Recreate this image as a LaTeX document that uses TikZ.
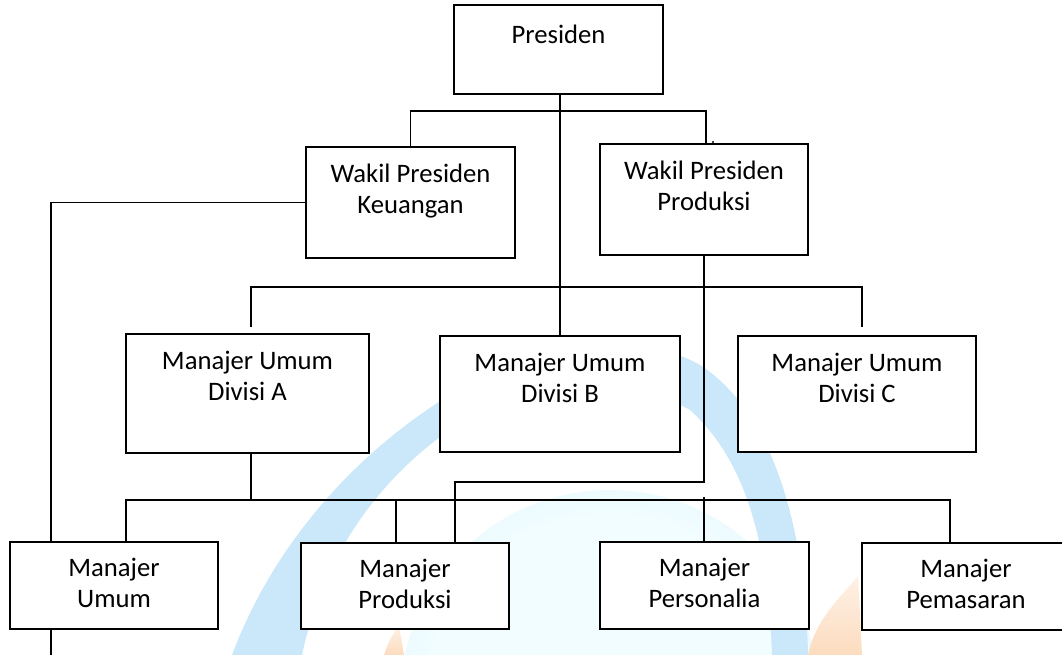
\documentclass[tikz,border=0pt]{standalone}
\usepackage{fontspec}
\setmainfont{Carlito}
\definecolor{wmblue}{HTML}{CAE8FA}
\definecolor{wmcore}{HTML}{F1FDFF}
\definecolor{wmflame}{HTML}{FCDCBE}
\definecolor{wmflametop}{HTML}{FEF1E6}
\pgfdeclareradialshading{wmglow}{\pgfpoint{0bp}{0bp}}{%
  color(0bp)=(wmcore); color(22bp)=(wmcore); color(50bp)=(wmblue)}
\tikzset{
  box/.style={draw, line width=1.5pt, fill=white, inner sep=0pt, outer sep=0pt},
  lbl/.style={align=center, inner sep=0pt, anchor=north,
    font=\fontsize{20pt}{23.25pt}\selectfont, execute at begin node=\strut},
  link/.style={line width=1.4pt},
}
\begin{document}
\begin{tikzpicture}[x=0.75pt, y=-0.75pt]
\useasboundingbox (0,0) rectangle (1062,655);

% background emblem
\shade[shading=wmglow] (610,700) circle (157.5pt);
\fill[wmblue] (232,655) .. controls (275,540) and (360,450) .. (450,395)
  .. controls (530,345) and (640,330) .. (700,365)
  .. controls (770,410) and (805,520) .. (808,655)
  -- (772,655)
  .. controls (768,540) and (745,460) .. (690,410)
  .. controls (620,370) and (510,385) .. (436,440)
  .. controls (365,495) and (320,570) .. (302,655) -- cycle;
\shade[top color=wmflametop, bottom color=wmflame]
  (808,655) .. controls (815,620) and (840,598) .. (858,576)
  -- (862,655) -- cycle;
\shade[top color=wmflametop, bottom color=wmflame]
  (384,655) .. controls (388,642) and (394,632) .. (399,626)
  -- (404,655) -- cycle;

% helper levels for the connector runs
\coordinate (busA) at (0,111);
\coordinate (busB) at (0,287);
\coordinate (busP) at (0,482);
\coordinate (busC) at (0,500);
\coordinate (lx) at (51,0);
\coordinate (tail) at (51,655);

% boxes
\node[box, minimum width=156.75pt, minimum height=66.75pt] (pres) at (558.5,49.5) {};
\node[box, minimum width=156.75pt, minimum height=83.25pt] (wpk) at (410.5,202.5) {};
\node[box, minimum width=156pt, minimum height=83.25pt] (wpp) at (704,199.5) {};
\node[box, minimum width=182.25pt, minimum height=89.25pt] (mua) at (247.5,393.5) {};
\node[box, minimum width=180pt, minimum height=87pt] (mub) at (560,394) {};
\node[box, minimum width=178.5pt, minimum height=87pt] (muc) at (857,394) {};
\node[box, minimum width=156pt, minimum height=65.25pt] (mum) at (114,585.5) {};
\node[box, minimum width=156pt, minimum height=64.5pt] (mpr) at (405,586) {};
\node[box, minimum width=156.75pt, minimum height=65.25pt] (mps) at (704.5,585.5) {};
\node[box, minimum width=156pt, minimum height=65.25pt] (mpm) at (966,586.5) {};

% labels
\node[lbl] (pres-t) at ([yshift=-12.5pt]pres.north) {Presiden};
\node[lbl] (wpk-t) at ([yshift=-12.5pt]wpk.north) {Wakil Presiden\\Keuangan};
\node[lbl] (wpp-t) at ([yshift=-12.5pt]wpp.north) {Wakil Presiden\\Produksi};
\node[lbl] (mua-t) at ([yshift=-12.5pt]mua.north) {Manajer Umum\\Divisi A};
\node[lbl] (mub-t) at ([yshift=-12.5pt]mub.north) {Manajer Umum\\Divisi B};
\node[lbl] (muc-t) at ([yshift=-12.5pt]muc.north) {Manajer Umum\\Divisi C};
\node[lbl] (mum-t) at ([yshift=-12pt]mum.north) {Manajer\\Umum};
\node[lbl] (mpr-t) at ([yshift=-12pt]mpr.north) {Manajer\\Produksi};
\node[lbl] (mps-t) at ([yshift=-12pt]mps.north) {Manajer\\Personalia};
\node[lbl] (mpm-t) at ([yshift=-12pt]mpm.north) {Manajer\\Pemasaran};

% president to the vice presidents
\draw[link] (wpk.north) -- (wpk.north |- busA)
  -- ([xshift=1.5pt]wpp.north |- busA) -- ([xshift=1.5pt]wpp.north);
\fill (713,142) circle (0.9pt);

% president trunk down to the division managers
\draw[link] (pres.south -| mub.north) -- (mub.north);
\draw[link, shorten <=5.25pt, shorten >=6.75pt] ([xshift=2.6pt]mua.north)
  |- ([xshift=3.75pt]muc.north |- busB) -- ([xshift=3.75pt]muc.north);

% division A to the functional managers
\draw[link] ([xshift=2.6pt]mua.south) -- ([xshift=2.6pt]mua.south |- busC);
\draw[link] ([xshift=9pt]mum.north) |- ([xshift=-12pt]mpm.north |- busC)
  -- ([xshift=-12pt]mpm.north);
\draw[link] ([xshift=-6.75pt]mpr.north) -- ([xshift=-6.75pt]mpr.north |- busC);
\draw[link] ([xshift=-0.4pt]mps.north) -- ([xshift=-0.4pt, yshift=2.25pt]mps.north |- busC);

% production vice president to the production manager
\draw[link] (wpp.south) |- ([xshift=37.5pt]mpr.north |- busP)
  -- ([xshift=37.5pt]mpr.north);

% finance vice president to the general manager
\draw[link] (wpk.west) -| (mum.north -| lx);
\draw[link] (mum.south -| lx) -- (tail);
\end{tikzpicture}
\end{document}
